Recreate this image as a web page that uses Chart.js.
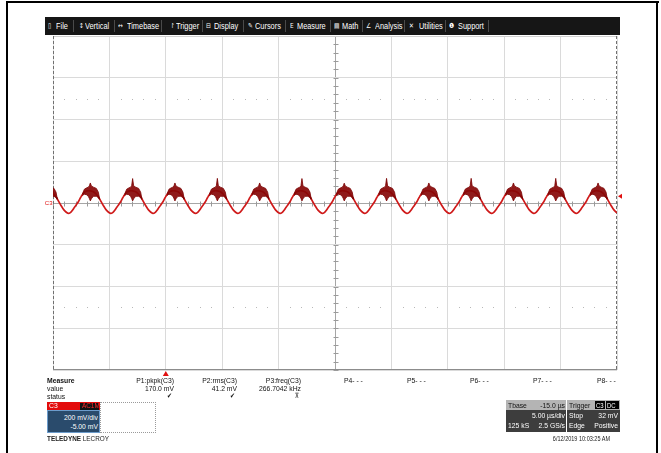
<!DOCTYPE html>
<html><head><meta charset="utf-8">
<script src="https://cdn.jsdelivr.net/npm/chart.js@4.4.1/dist/chart.umd.min.js"></script>
<style>
html,body{margin:0;padding:0;background:#fff;}
#wrap{position:relative;width:661px;height:453px;overflow:hidden;font-family:"Liberation Sans",Arial,sans-serif;}
canvas{position:absolute;left:0;top:0;}
.t{position:absolute;white-space:nowrap;font-size:8px;line-height:9px;color:#111;transform:scaleX(.85);transform-origin:left center;}
.r{text-align:right;transform-origin:right center;}
.tb{position:absolute;top:17px;line-height:18px;font-size:9px;color:#fff;white-space:nowrap;transform:scaleX(.82);transform-origin:left center;}
.ic{font-family:"DejaVu Sans",sans-serif;font-size:7px;}
.sep{position:absolute;top:20px;width:1px;height:12px;background:#4a4a4a;}
.blk{position:absolute;background:#000;}
</style></head>
<body><div id="wrap">
<canvas id="c" width="661" height="453"></canvas>
<!-- page frame -->
<div class="blk" style="left:6px;top:1px;width:653px;height:2px"></div>
<div class="blk" style="left:6px;top:1px;width:2px;height:452px"></div>
<div class="blk" style="left:656px;top:1px;width:2px;height:452px"></div>
<!-- toolbar -->
<div style="position:absolute;left:45px;top:17px;width:575px;height:18px;background:#161616"></div>
<span class="tb ic" style="left:48px">▯</span><span class="tb" style="left:56px">File</span><div class="sep" style="left:73px"></div>
<span class="tb ic" style="left:79px">↕</span><span class="tb" style="left:85px">Vertical</span><div class="sep" style="left:114px"></div>
<span class="tb ic" style="left:118px">↔</span><span class="tb" style="left:127px">Timebase</span><div class="sep" style="left:161px"></div>
<span class="tb ic" style="left:170px">↾</span><span class="tb" style="left:176px">Trigger</span><div class="sep" style="left:202px"></div>
<span class="tb ic" style="left:206px">⊟</span><span class="tb" style="left:214px">Display</span><div class="sep" style="left:243px"></div>
<span class="tb ic" style="left:248px">✎</span><span class="tb" style="left:255px">Cursors</span><div class="sep" style="left:285px"></div>
<span class="tb ic" style="left:290px">Ε</span><span class="tb" style="left:297px">Measure</span><div class="sep" style="left:330px"></div>
<span class="tb ic" style="left:334px">▤</span><span class="tb" style="left:342px">Math</span><div class="sep" style="left:362px"></div>
<span class="tb ic" style="left:366px">∠</span><span class="tb" style="left:375px">Analysis</span><div class="sep" style="left:404px"></div>
<span class="tb ic" style="left:409px">✕</span><span class="tb" style="left:419px">Utilities</span><div class="sep" style="left:445px"></div>
<span class="tb ic" style="left:449px">❶</span><span class="tb" style="left:458px">Support</span><div class="sep" style="left:488px"></div>
<!-- measure table -->
<div class="t" style="left:47px;top:376px;font-weight:bold">Measure</div>
<div class="t r" style="left:104px;width:70px;top:376px">P1:pkpk(C3)</div>
<div class="t r" style="left:167px;width:70px;top:376px">P2:rms(C3)</div>
<div class="t r" style="left:231px;width:70px;top:376px">P3:freq(C3)</div>
<div class="t" style="left:344px;top:376px">P4- - -</div>
<div class="t" style="left:407px;top:376px">P5- - -</div>
<div class="t" style="left:470px;top:376px">P6- - -</div>
<div class="t" style="left:533px;top:376px">P7- - -</div>
<div class="t" style="left:597px;top:376px">P8- - -</div>
<div class="t" style="left:47px;top:384px">value</div>
<div class="t r" style="left:104px;width:70px;top:384px">170.0 mV</div>
<div class="t r" style="left:167px;width:70px;top:384px">41.2 mV</div>
<div class="t r" style="left:221px;width:80px;top:384px">266.7042 kHz</div>
<div class="t" style="left:47px;top:392px">status</div>
<div class="t r ic" style="left:150px;width:22px;top:392px">✔</div>
<div class="t r ic" style="left:213px;width:22px;top:392px">✔</div>
<div class="t r ic" style="left:277px;width:22px;top:392px">⊼</div>
<!-- C3 channel box -->
<div style="position:absolute;left:47px;top:402px;width:53px;height:8px;background:#e30b0b"></div>
<div class="t" style="left:49px;top:401px;color:#fff">C3</div>
<div style="position:absolute;left:80px;top:403px;width:19px;height:7px;background:#111"></div>
<div class="t r" style="left:79px;width:20px;top:401px;color:#ff2a2a;font-size:7.5px">AC1M</div>
<div style="position:absolute;left:47px;top:410px;width:51px;height:21px;background:#2a4b6c;border:1px solid #6c9ccc"></div>
<div class="t r" style="left:48px;width:50px;top:413px;color:#fff">200 mV/div</div>
<div class="t r" style="left:48px;width:50px;top:422px;color:#fff">-5.00 mV</div>
<div style="position:absolute;left:100px;top:402px;width:54px;height:29px;border:1px dotted #9a9a9a"></div>
<div class="t" style="left:47px;top:434px;font-size:7.5px;color:#222"><b>TELEDYNE</b> LECROY</div>
<!-- timebase / trigger panel -->
<div style="position:absolute;left:506px;top:400px;width:60px;height:10px;background:#b4b4b4"></div>
<div style="position:absolute;left:506px;top:410px;width:60px;height:22px;background:#3d3d3d"></div>
<div style="position:absolute;left:567px;top:400px;width:53px;height:10px;background:#b4b4b4"></div>
<div style="position:absolute;left:567px;top:410px;width:53px;height:22px;background:#3d3d3d"></div>
<div class="t" style="left:508px;top:401px">Tbase</div>
<div class="t r" style="left:525px;width:40px;top:401px">-15.0 µs</div>
<div class="t r" style="left:515px;width:50px;top:411px;color:#fff">5.00 µs/div</div>
<div class="t" style="left:508px;top:421px;color:#fff">125 kS</div>
<div class="t r" style="left:525px;width:40px;top:421px;color:#fff">2.5 GS/s</div>
<div class="t" style="left:569px;top:401px">Trigger</div>
<div style="position:absolute;left:595px;top:401px;width:10px;height:8px;background:#000"></div>
<div class="t" style="left:596px;top:401px;color:#fff;font-size:7px">C3</div>
<div style="position:absolute;left:606px;top:401px;width:13px;height:8px;background:#000"></div>
<div class="t" style="left:607px;top:401px;color:#fff;font-size:7px">DC</div>
<div class="t" style="left:569px;top:411px;color:#fff">Stop</div>
<div class="t r" style="left:580px;width:38px;top:411px;color:#fff">32 mV</div>
<div class="t" style="left:569px;top:421px;color:#fff">Edge</div>
<div class="t r" style="left:580px;width:38px;top:421px;color:#fff">Positive</div>
<div class="t r" style="left:520px;width:90px;top:434px;font-size:6.5px;color:#222">6/12/2019 10:03:25 AM</div>
</div>
<script>
// ---- data read from the screen (time in µs, voltage in mV) ----
// time of each trough of the trace
const troughTimes = [-12.39, -8.64, -4.89, -1.14, 2.62, 6.37, 10.12, 13.87, 17.62, 21.37, 25.12, 28.87, 32.62, 36.37, 40.12];
// height of the ringing spike in each period
const spikePeaks = [117, 96, 117, 96, 118, 96, 117, 95, 118, 96, 118, 96, 118, 96, 117];
// one period of the smooth trace (offset from trough, value)
const shapeOffsets = [0, 0.18, 0.35, 0.53, 0.71, 0.89, 1.06, 1.15, 1.24, 1.42, 1.68, 1.95, 2.22, 2.48, 2.75, 2.93, 3.10, 3.28, 3.46, 3.63];
const shapeValues  = [-50, -46, -36, -22, -8, 6, 24, 32, 40, 52, 58, 58, 54, 42, 22, 4, -12, -27, -39, -47];
// ringing band on top of each hump (upper / lower envelope)
const noiseOffsets = [1.24, 1.42, 1.60, 1.77, 1.86, 1.95, 2.04, 2.22, 2.48, 2.66, 2.75];
const noiseUpper   = [42, 66, 72, 76, 82, null, 82, 76, 70, 52, 26];
const noiseLower   = [36, 42, 40, 32, 22, 10, 20, 32, 32, 26, 18];
const spikeIndex = 5;
// axis / graticule
const timeMin = -10, timeMax = 40, timePerDiv = 5;
const voltMin = -800, voltMax = 800, voltPerDiv = 200;
const centerTime = 15;
const dottedLevels = [-500, 500];
const triggerTime = 0, triggerLevel = 32;

const trace = [];
troughTimes.forEach(t0 => shapeOffsets.forEach((d, j) => trace.push({x: +(t0 + d).toFixed(3), y: shapeValues[j]})));

const noiseSets = troughTimes.map((t0, i) => {
  const up = noiseOffsets.map((d, j) => ({x: +(t0 + d).toFixed(3), y: j === spikeIndex ? spikePeaks[i] : noiseUpper[j]}));
  const lo = noiseOffsets.map((d, j) => ({x: +(t0 + d).toFixed(3), y: noiseLower[j]})).reverse();
  return {data: up.concat(lo), fill: 'shape', backgroundColor: 'rgba(135,6,6,0.92)', borderColor: '#7a0000',
          borderWidth: 0.8, pointRadius: 0, tension: 0};
});

const decor = {
  id: 'decor',
  beforeDatasetsDraw(chart) {
    const {ctx, chartArea: a, scales: {x, y}} = chart;
    ctx.save();
    ctx.fillStyle = '#b8b8b8';
    dottedLevels.forEach(v => {
      const py = Math.round(y.getPixelForValue(v));
      for (let t = timeMin + 1; t < timeMax; t += 1) {
        if ((t - timeMin) % timePerDiv === 0) continue;
        ctx.fillRect(Math.round(x.getPixelForValue(t)), py, 1, 1);
      }
    });
    ctx.strokeStyle = '#9a9a9a'; ctx.lineWidth = 1;
    const cx = Math.round(x.getPixelForValue(centerTime)) + 0.5;
    const cy = Math.round(y.getPixelForValue(0)) + 0.5;
    ctx.beginPath();
    for (let v = voltMin; v <= voltMax; v += voltPerDiv / 5) {
      const py = Math.round(y.getPixelForValue(v)) + 0.5;
      ctx.moveTo(cx - 2, py); ctx.lineTo(cx + 3, py);
    }
    for (let t = timeMin; t <= timeMax; t += timePerDiv / 5) {
      const px = Math.round(x.getPixelForValue(t)) + 0.5;
      ctx.moveTo(px, cy - 2); ctx.lineTo(px, cy + 3);
    }
    ctx.stroke();
    ctx.strokeStyle = '#d0d0d0';
    ctx.beginPath(); ctx.moveTo(a.left, a.top + 0.5); ctx.lineTo(a.right, a.top + 0.5); ctx.stroke();
    ctx.strokeStyle = '#8c8c8c';
    ctx.beginPath(); ctx.moveTo(a.left, a.bottom - 0.5); ctx.lineTo(a.right, a.bottom - 0.5); ctx.stroke();
    ctx.setLineDash([3, 2]);
    ctx.strokeStyle = '#707070';
    ctx.beginPath();
    ctx.moveTo(a.left + 0.5, a.top); ctx.lineTo(a.left + 0.5, a.bottom);
    ctx.moveTo(a.right - 0.5, a.top); ctx.lineTo(a.right - 0.5, a.bottom);
    ctx.stroke();
    ctx.restore();
  },
  afterDraw(chart) {
    const {ctx, chartArea: a, scales: {x, y}} = chart;
    ctx.save();
    ctx.fillStyle = '#e01010';
    const tx = x.getPixelForValue(triggerTime);
    ctx.beginPath(); ctx.moveTo(tx, a.bottom + 1); ctx.lineTo(tx - 3, a.bottom + 6); ctx.lineTo(tx + 3, a.bottom + 6); ctx.closePath(); ctx.fill();
    const ty = y.getPixelForValue(triggerLevel);
    ctx.beginPath(); ctx.moveTo(a.right + 1, ty); ctx.lineTo(a.right + 5, ty - 2.5); ctx.lineTo(a.right + 5, ty + 2.5); ctx.closePath(); ctx.fill();
    ctx.font = '6px "Liberation Sans", Arial, sans-serif';
    ctx.textAlign = 'right'; ctx.textBaseline = 'middle';
    ctx.fillText('C3', a.left - 0.5, y.getPixelForValue(0));
    ctx.restore();
  }
};

const gridColor = (center) => (c) => {
  const v = c.tick && c.tick.value;
  if (v === center) return '#a6a6a6';
  return '#dadada';
};

new Chart(document.getElementById('c'), {
  type: 'line',
  data: {
    datasets: noiseSets.concat([{
      data: trace, borderColor: '#cf1a1a', borderWidth: 1.7, pointRadius: 0, tension: 0.3, fill: false
    }])
  },
  options: {
    responsive: false, animation: false, events: [],
    layout: {padding: {left: 53, right: 44, top: 36, bottom: 83}},
    plugins: {legend: {display: false}, tooltip: {enabled: false}},
    scales: {
      x: {type: 'linear', min: timeMin, max: timeMax, afterFit(s) { s.height = 0; },
          ticks: {display: false, stepSize: timePerDiv}, border: {display: false},
          grid: {drawTicks: false, color: gridColor(centerTime), lineWidth: 1}},
      y: {type: 'linear', min: voltMin, max: voltMax, afterFit(s) { s.width = 0; },
          ticks: {display: false, stepSize: voltPerDiv}, border: {display: false},
          grid: {drawTicks: false, color: gridColor(0), lineWidth: 1}}
    }
  },
  plugins: [decor]
});
</script>
</body></html>
